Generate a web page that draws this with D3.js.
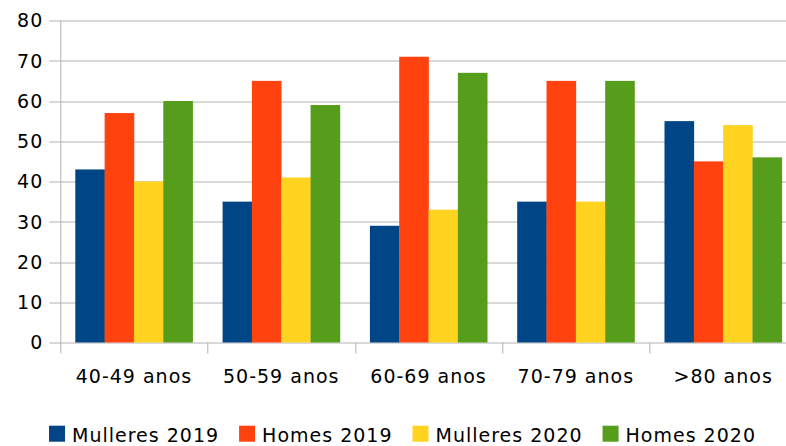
<!DOCTYPE html>
<html>
<head>
<meta charset="utf-8">
<script src="https://cdn.jsdelivr.net/npm/d3@7"></script>
<style>
  html, body { margin: 0; padding: 0; background: #fff; }
  svg { display: block; font-family: "DejaVu Sans", sans-serif; }
  svg text { letter-spacing: 1px; }
</style>
</head>
<body>
<div id="chart"></div>
<script>
// Bar chart - grouped by age band, 2019 vs 2020

const categories = ['40-49 anos', '50-59 anos', '60-69 anos', '70-79 anos', '>80 anos'];
const seriesNames = ['Mulleres 2019', 'Homes 2019', 'Mulleres 2020', 'Homes 2020'];
const mulleres2019 = [43, 35, 29, 35, 55];
const homes2019 = [57, 65, 71, 65, 45];
const mulleres2020 = [40, 41, 33, 35, 54];
const homes2020 = [60, 59, 67, 65, 46];
const yTicks = [0, 10, 20, 30, 40, 50, 60, 70, 80];
const colors = ['#004586', '#ff420e', '#ffd320', '#579d1c'];

const seriesValues = [mulleres2019, homes2019, mulleres2020, homes2020];

const W = 786, H = 446;
const margin = { top: 20.5, left: 60.3, bottom: 103.5 };
const plotW = 736.5;
const plotH = H - margin.top - margin.bottom;

const svg = d3.select('#chart').append('svg')
    .attr('width', W)
    .attr('height', H);

const g = svg.append('g')
    .attr('transform', `translate(${margin.left},${margin.top})`);

const x0 = d3.scaleBand().domain(categories).range([0, plotW]).paddingInner(0.2036).paddingOuter(0.1018);
const x1 = d3.scaleBand().domain(seriesNames).range([0, x0.bandwidth()]);
const y = d3.scaleLinear().domain([0, 80]).range([plotH, 0]);

// horizontal grid lines + y ticks
g.append('g').selectAll('line')
    .data(yTicks)
    .enter().append('line')
    .attr('x1', -11)
    .attr('x2', W)
    .attr('y1', d => Math.round(y(d)) + 0.5)
    .attr('y2', d => Math.round(y(d)) + 0.5)
    .attr('stroke', '#b3b3b3')
    .attr('stroke-width', 1);

g.append('g').selectAll('text')
    .data(yTicks)
    .enter().append('text')
    .attr('x', -17)
    .attr('y', d => y(d))
    .attr('dy', '0.36em')
    .attr('text-anchor', 'end')
    .attr('font-size', 19)
    .attr('fill', '#000')
    .text(d => d);

// bars
const groups = g.append('g').selectAll('g')
    .data(categories)
    .enter().append('g')
    .attr('transform', d => `translate(${x0(d)},0)`);

groups.selectAll('rect')
    .data((c, i) => seriesNames.map((s, j) => ({ s, v: seriesValues[j][i], c: colors[j] })))
    .enter().append('rect')
    .attr('x', d => x1(d.s))
    .attr('width', x1.bandwidth() + 0.3)
    .attr('y', d => y(d.v))
    .attr('height', d => plotH - y(d.v))
    .attr('fill', d => d.c);

// y axis line and category ticks
g.append('line')
    .attr('x1', 0.5).attr('x2', 0.5)
    .attr('y1', 0).attr('y2', plotH + 11)
    .attr('stroke', '#b3b3b3');

const step = x0.step();
g.append('g').selectAll('line')
    .data(d3.range(1, categories.length + 1))
    .enter().append('line')
    .attr('x1', i => Math.round(i * step) + 0.5)
    .attr('x2', i => Math.round(i * step) + 0.5)
    .attr('y1', plotH)
    .attr('y2', plotH + 11)
    .attr('stroke', '#b3b3b3');

g.append('g').selectAll('text')
    .data(categories)
    .enter().append('text')
    .attr('x', d => x0(d) + x0.bandwidth() / 2)
    .attr('y', plotH + 40.5)
    .attr('text-anchor', 'middle')
    .attr('font-size', 19)
    .attr('fill', '#000')
    .text(d => d);

// legend
const legend = svg.append('g');
const items = legend.selectAll('g')
    .data(seriesNames)
    .enter().append('g');

items.append('rect')
    .attr('width', 16)
    .attr('height', 16)
    .attr('y', 425.7)
    .attr('fill', (d, i) => colors[i]);

items.append('text')
    .attr('x', 23)
    .attr('y', 441.5)
    .attr('font-size', 19)
    .attr('fill', '#000')
    .text(d => d);

let pos = 0;
const offsets = [];
items.each(function () {
    const w = this.querySelector('text').getComputedTextLength();
    offsets.push(pos);
    pos += 23 + w + 20;
});
const total = pos - 20;
const startX = 402.5 - total / 2;
items.attr('transform', (d, i) => `translate(${startX + offsets[i]},0)`);
</script>
</body>
</html>
